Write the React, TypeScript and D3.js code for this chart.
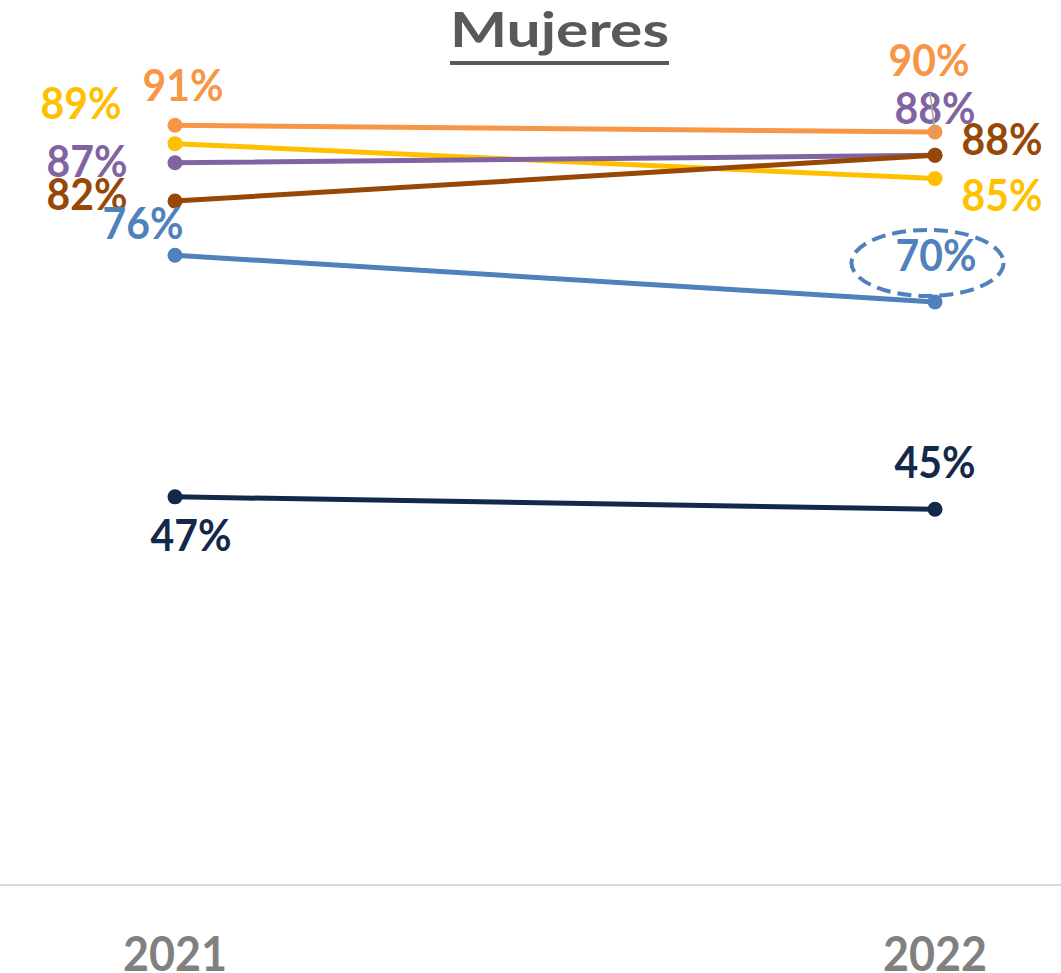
import React, { useRef, useEffect } from 'react';
import * as d3 from 'd3';

const years = ['2021', '2022'];
const seriesNames = ['naranja', 'amarillo', 'morado', 'marron', 'azul', 'marino'];
const valNaranja = [91.2, 90.4];
const valAmarillo = [89.0, 84.8];
const valMorado = [86.7, 87.6];
const valMarron = [82.1, 87.6];
const valAzul = [75.6, 70.0];
const valMarino = [46.6, 45.1];

const seriesValues = [valNaranja, valAmarillo, valMorado, valMarron, valAzul, valMarino];
const colors = ['#F79646', '#FFC000', '#8064A2', '#974706', '#4F81BD', '#14284A'];

// label offsets (dx, dy) from each point, per series, per year
const labelOffsets = [
  [[8, -24], [-6, -56]],
  [[-94, -25], [67, 32]],
  [[-88, 14], [0, -31]],
  [[-88, 9], [67, 0]],
  [[-32, -16], [1, -31]],
  [[16, 54], [0, -31]],
];

const W = 1061;
const H = 973;
const FONT = 'Lato, "Open Sans", sans-serif';
const fmt = d3.format('.0f');

const App = () => {
  const ref = useRef(null);

  useEffect(() => {
    const svg = d3.select(ref.current);
    svg.selectAll('*').remove();

    const x = d3.scalePoint().domain(years).range([175, 935]);
    const y = d3.scaleLinear().domain([0, 100]).range([885, 52]);

    // Title
    svg.append('text')
      .attr('x', 559.5)
      .attr('y', 47)
      .attr('text-anchor', 'middle')
      .attr('font-family', FONT)
      .attr('font-weight', 'bold')
      .attr('font-size', 48)
      .attr('fill', '#595959')
      .attr('textLength', 219)
      .attr('lengthAdjust', 'spacingAndGlyphs')
      .text('Mujeres');
    svg.append('line')
      .attr('x1', 450).attr('x2', 669)
      .attr('y1', 63).attr('y2', 63)
      .attr('stroke', '#595959')
      .attr('stroke-width', 4);

    // Baseline
    svg.append('line')
      .attr('x1', 0).attr('x2', W)
      .attr('y1', y(0)).attr('y2', y(0))
      .attr('stroke', '#d9d9d9')
      .attr('stroke-width', 2);

    // Year labels
    svg.selectAll('text.year')
      .data(years)
      .join('text')
      .attr('class', 'year')
      .attr('x', d => x(d))
      .attr('y', 971)
      .attr('text-anchor', 'middle')
      .attr('font-family', FONT)
      .attr('font-weight', 'bold')
      .attr('font-size', 47)
      .attr('fill', '#808080')
      .attr('textLength', 104)
      .attr('lengthAdjust', 'spacingAndGlyphs')
      .text(d => d);

    const line = d3.line()
      .x((d, i) => x(years[i]))
      .y(d => y(d));

    // Lines and points
    seriesValues.forEach((vals, s) => {
      const g = svg.append('g').attr('class', seriesNames[s]);
      g.append('path')
        .datum(vals)
        .attr('d', line)
        .attr('fill', 'none')
        .attr('stroke', colors[s])
        .attr('stroke-width', 5)
        .attr('stroke-linecap', 'round');
      g.selectAll('circle')
        .data(vals)
        .join('circle')
        .attr('cx', (d, i) => x(years[i]))
        .attr('cy', d => y(d))
        .attr('r', 7.5)
        .attr('fill', colors[s]);
    });

    // Data labels
    seriesValues.forEach((vals, s) => {
      svg.selectAll(null)
        .data(vals)
        .join('text')
        .attr('x', (d, i) => x(years[i]) + labelOffsets[s][i][0])
        .attr('y', (d, i) => y(d) + labelOffsets[s][i][1])
        .attr('text-anchor', 'middle')
        .attr('font-family', FONT)
        .attr('font-weight', 'bold')
        .attr('font-size', 43)
        .attr('fill', colors[s])
        .attr('textLength', 81)
        .attr('lengthAdjust', 'spacingAndGlyphs')
        .text(d => fmt(d) + '%');
    });

    // Leader line for 90% label (drawn over the 88% label, as in the original)
    svg.append('line')
      .attr('x1', 930).attr('y1', 93)
      .attr('x2', x('2022') + 0.5).attr('y2', y(valNaranja[1]) + 4)
      .attr('stroke', '#a6a6a6')
      .attr('stroke-width', 1.5);

    // Dashed highlight around 70%
    svg.append('ellipse')
      .attr('cx', 927.5)
      .attr('cy', y(valAzul[1]) - 39)
      .attr('rx', 76)
      .attr('ry', 33)
      .attr('fill', 'none')
      .attr('stroke', colors[4])
      .attr('stroke-width', 4)
      .attr('stroke-dasharray', '14,7');
  }, []);

  return (
    <svg
      ref={ref}
      width={W}
      height={H}
      style={{ position: 'absolute', left: 0, top: 0, background: '#fff' }}
    />
  );
};

export default App;
